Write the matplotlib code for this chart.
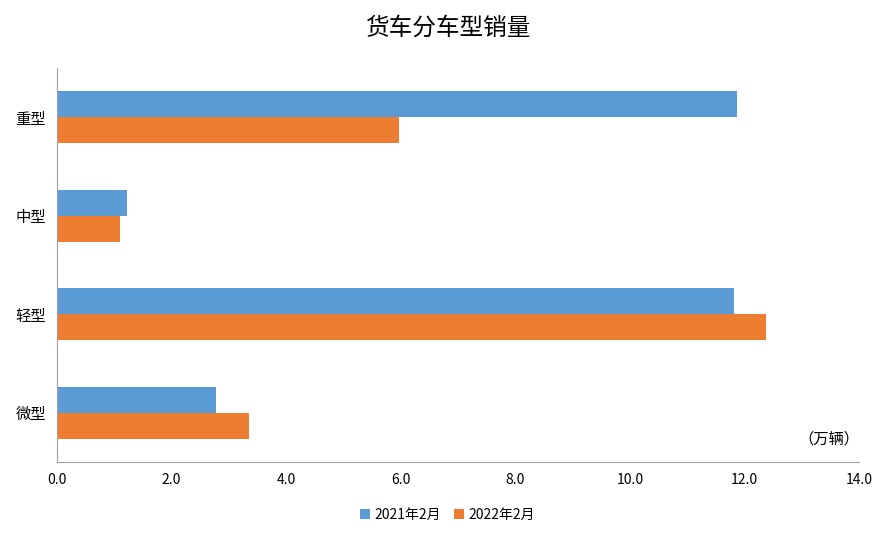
import matplotlib.pyplot as plt
import numpy as np

plt.rcParams["font.family"] = "Noto Sans CJK SC"

categories = ["重型", "中型", "轻型", "微型"]
sales_2021 = [11.87, 1.22, 11.82, 2.77]
sales_2022 = [5.97, 1.10, 12.37, 3.36]
series_names = ["2021年2月", "2022年2月"]
xticks = np.arange(0, 14.1, 2.0)

fig = plt.figure(figsize=(8.95, 5.33), dpi=100)
ax = fig.add_axes([57 / 895, 1 - 462 / 533, 802 / 895, 394 / 533])

y = np.arange(len(categories))
h = 0.265
ax.barh(y - h / 2, sales_2021, height=h, color="#5B9BD5", label=series_names[0])
ax.barh(y + h / 2, sales_2022, height=h, color="#ED7D31", label=series_names[1])

ax.set_ylim(len(categories) - 0.5, -0.5)
ax.set_yticks(y)
ax.set_yticklabels(categories, fontsize=11)
ax.set_xlim(0, 14)
ax.set_xticks(xticks)
ax.set_xticklabels([f"{v:.1f}" for v in xticks], fontsize=10)
ax.tick_params(length=0, pad=8)
for side in ("top", "right"):
    ax.spines[side].set_visible(False)
for side in ("left", "bottom"):
    ax.spines[side].set_color("#A0A0A0")

ax.text(14.0, 3.27, "（万辆）", ha="right", va="center", fontsize=11)
fig.text(0.5, 1 - 28 / 533, "货车分车型销量", ha="center", va="center", fontsize=17)
fig.legend(loc="center", bbox_to_anchor=(0.5, 1 - 515 / 533), ncol=2, frameon=False,
           fontsize=10, handlelength=0.7, handleheight=0.7, columnspacing=1.0, handletextpad=0.3)

fig.savefig("out.png", dpi=100)
